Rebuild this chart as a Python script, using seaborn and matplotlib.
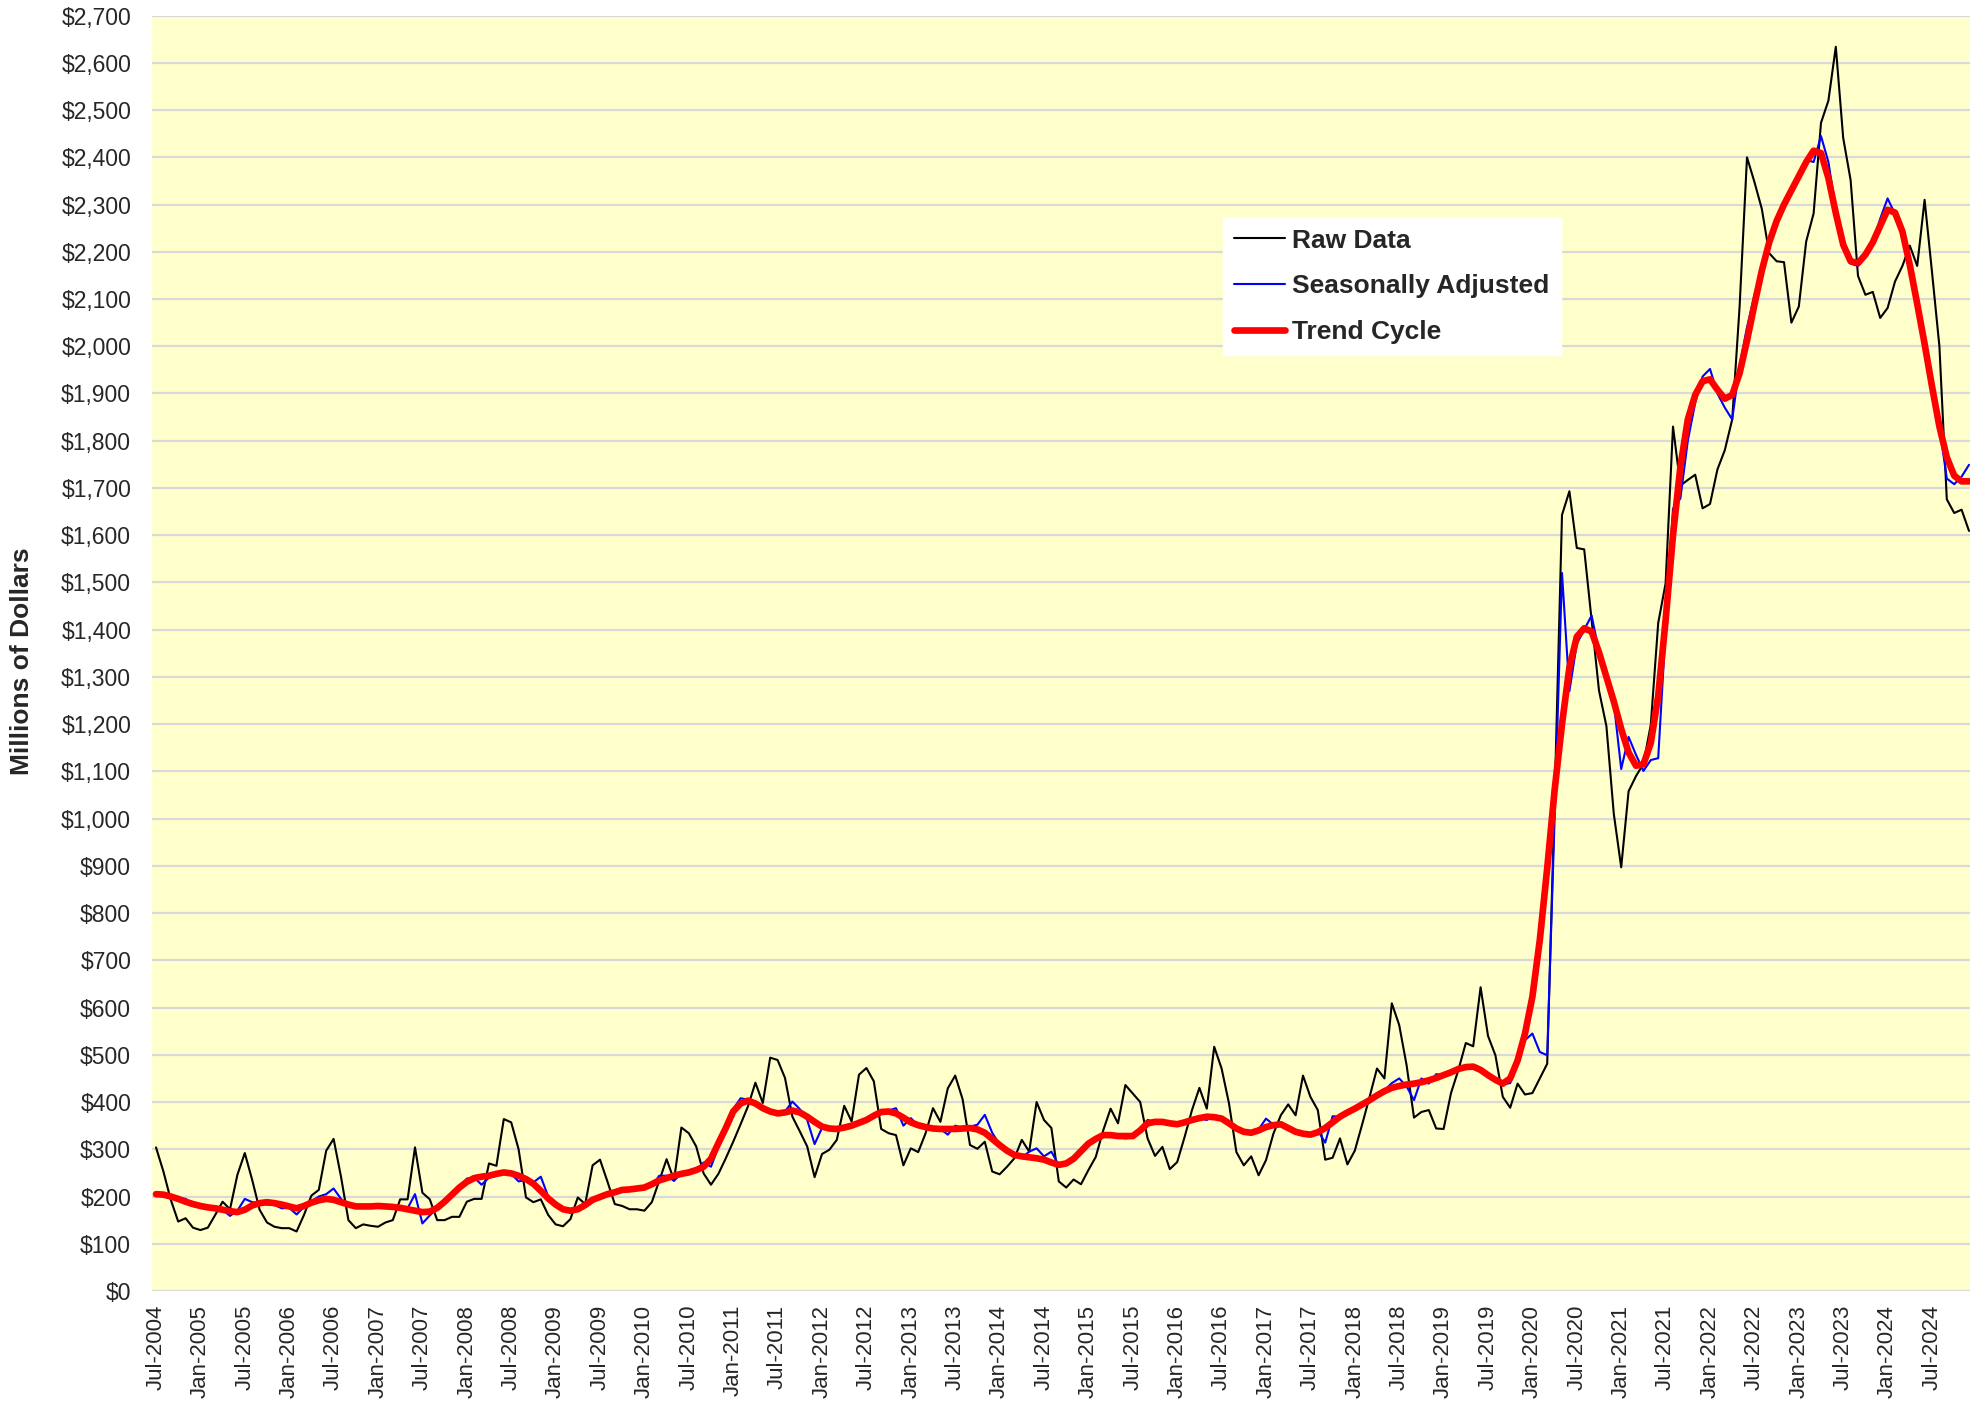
import numpy as np
import pandas as pd
import matplotlib
matplotlib.use('Agg')
import matplotlib.pyplot as plt
import seaborn as sns
from matplotlib.ticker import FuncFormatter, MultipleLocator

# monthly series, Jul-2004 .. Dec-2024 (millions of dollars)
months = pd.date_range('2004-07-01', periods=246, freq='MS')

raw_data = [
    304, 253, 193, 147, 154, 134, 129, 134, 161, 189, 173, 246,
    292, 235, 172, 145, 136, 133, 133, 126, 161, 202, 214, 297,
    322, 242, 150, 133, 141, 138, 136, 145, 150, 194, 194, 304,
    208, 194, 150, 150, 157, 157, 189, 195, 195, 270, 265, 364,
    357, 300, 198, 188, 194, 161, 141, 137, 152, 198, 184, 266,
    278, 232, 184, 180, 173, 173, 170, 188, 233, 279, 235, 346,
    334, 306, 249, 225, 248, 281, 316, 353, 391, 441, 398, 494,
    489, 451, 369, 338, 306, 241, 290, 299, 320, 392, 359, 458,
    472, 444, 343, 334, 330, 266, 302, 294, 334, 387, 358, 429,
    456, 406, 309, 301, 316, 253, 247, 263, 281, 320, 295, 400,
    362, 345, 232, 219, 236, 226, 256, 284, 340, 386, 355, 436,
    418, 400, 323, 286, 305, 258, 273, 326, 383, 430, 386, 517,
    471, 397, 294, 266, 285, 245, 277, 333, 372, 395, 372, 456,
    411, 383, 278, 282, 323, 268, 297, 353, 411, 471, 450, 609,
    563, 478, 367, 379, 383, 344, 343, 419, 468, 525, 518, 643,
    540, 499, 411, 388, 439, 416, 419, 450, 481, 1040, 1643, 1693,
    1573, 1570, 1420, 1271, 1196, 1010, 897, 1058, 1090, 1116, 1199, 1414,
    1498, 1830, 1705, 1717, 1728, 1657, 1666, 1739, 1780, 1845, 2084, 2400,
    2348, 2291, 2197, 2180, 2178, 2050, 2084, 2222, 2281, 2473, 2520, 2634,
    2441, 2352, 2149, 2109, 2115, 2060, 2081, 2137, 2170, 2213, 2170, 2310,
    2157, 2000, 1676, 1647, 1654, 1609,
]

seas_adj = [
    205, 207, 200, 196, 195, 184, 180, 176, 180, 172, 159, 170,
    195, 188, 186, 183, 182, 175, 176, 162, 178, 190, 200, 205,
    217, 195, 180, 177, 178, 180, 181, 179, 178, 177, 175, 205,
    143, 160, 175, 190, 205, 218, 238, 240, 225, 240, 244, 250,
    248, 232, 235, 230, 242, 200, 182, 172, 172, 175, 180, 190,
    199, 205, 210, 213, 215, 217, 219, 222, 244, 244, 233, 250,
    252, 256, 272, 263, 305, 345, 385, 408, 405, 395, 388, 380,
    374, 380, 401, 385, 362, 311, 345, 345, 344, 348, 352, 358,
    364, 372, 380, 382, 387, 350, 366, 350, 347, 344, 343, 331,
    350, 345, 348, 352, 373, 335, 310, 298, 288, 282, 295, 302,
    285, 295, 266, 268, 280, 296, 312, 322, 330, 332, 326, 323,
    325, 345, 362, 358, 356, 352, 353, 357, 362, 366, 362, 372,
    368, 352, 344, 337, 336, 342, 365, 352, 350, 345, 337, 334,
    330, 340, 314, 370, 369, 378, 386, 395, 404, 414, 425, 440,
    450, 433, 404, 450, 439, 459, 457, 463, 470, 474, 476, 470,
    455, 445, 438, 440, 488, 531, 545, 506, 499, 1000, 1520, 1270,
    1370, 1400, 1430, 1354, 1301, 1245, 1105, 1173, 1135, 1101, 1124, 1128,
    1400, 1656, 1678, 1800, 1880, 1936, 1952, 1900, 1870, 1845, 1960, 2040,
    2108, 2165, 2215, 2265, 2300, 2330, 2360, 2395, 2390, 2445, 2390, 2290,
    2210, 2175, 2170, 2190, 2220, 2270, 2313, 2280, 2240, 2170, 2080, 2005,
    1930, 1830, 1720, 1708, 1724, 1749,
]

trend_cycle = [
    205, 204, 200, 195, 189, 184, 180, 177, 175, 172, 169, 167,
    172, 181, 186, 188, 186, 183, 179, 175, 180, 187, 192, 195,
    193, 188, 183, 179, 179, 179, 180, 179, 178, 176, 173, 170,
    167, 168, 176, 189, 204, 219, 231, 239, 242, 244, 248, 251,
    249, 244, 237, 227, 212, 196, 183, 173, 170, 173, 182, 193,
    199, 205, 209, 214, 215, 217, 219, 226, 234, 239, 244, 248,
    251, 256, 263, 280, 313, 345, 380, 397, 403, 397, 387, 380,
    376, 378, 382, 378, 369, 358, 348, 344, 343, 346, 350, 356,
    362, 371, 379, 380, 376, 367, 357, 351, 347, 344, 343, 343,
    343, 344, 345, 342, 335, 322, 309, 297, 288, 285, 283, 281,
    278, 272, 267, 270, 280, 296, 312, 322, 330, 330, 328, 328,
    328, 340, 355, 358, 358, 355, 353, 357, 362, 366, 369, 368,
    365, 355, 344, 337, 335, 340, 347, 351, 353, 345, 337, 333,
    331, 336, 345, 357, 369, 378, 386, 395, 404, 414, 423, 430,
    434, 437, 439, 442, 446, 451, 457, 463, 470, 474, 475, 468,
    457, 447, 439, 450, 488, 545, 623, 743, 895, 1060, 1200, 1320,
    1385, 1403, 1396, 1352, 1300, 1248, 1190, 1140, 1112, 1115, 1160, 1260,
    1420, 1600, 1745, 1845, 1897, 1926, 1930, 1908, 1889, 1897, 1943, 2012,
    2088, 2160, 2220, 2265, 2300, 2330, 2360, 2390, 2414, 2409, 2356, 2282,
    2215, 2180, 2176, 2194, 2220, 2255, 2289, 2283, 2243, 2172, 2090, 2005,
    1915, 1830, 1765, 1726, 1714, 1714,
]

assert len(raw_data) == len(months)
assert len(seas_adj) == len(months)
assert len(trend_cycle) == len(months)

df = pd.DataFrame({
    'pos': np.arange(len(months)),
    'Raw Data': raw_data,
    'Seasonally Adjusted': seas_adj,
    'Trend Cycle': trend_cycle,
})

sns.set_style('white')
plt.rcParams['font.family'] = ['Liberation Sans', 'DejaVu Sans']

fig = plt.figure(figsize=(19.86, 14.06), dpi=100)
ax = fig.add_axes([0.0765, 0.0818, 0.9155, 0.9071])
ax.set_facecolor('#FFFFCC')

sns.lineplot(data=df, x='pos', y='Raw Data', color='black', lw=1.5, ax=ax, label='Raw Data')
sns.lineplot(data=df, x='pos', y='Seasonally Adjusted', color='#0000FF', lw=1.5, ax=ax,
             label='Seasonally Adjusted')
sns.lineplot(data=df, x='pos', y='Trend Cycle', color='#FF0000', lw=4.8, ax=ax, label='Trend Cycle')

ax.set_ylim(0, 2700)
ax.set_xlim(-0.55, len(months) - 0.85)
ax.yaxis.set_major_locator(MultipleLocator(100))
ax.yaxis.set_major_formatter(FuncFormatter(lambda v, p: '${:,.0f}'.format(v)))
ax.yaxis.grid(True, color='#D9D9D9', lw=1.6)
ax.xaxis.grid(False)
ax.set_axisbelow(True)

tick_pos = list(range(0, len(months), 6))
ax.set_xticks(tick_pos)
ax.set_xticklabels([months[i].strftime('%b-%Y') for i in tick_pos], rotation=90)
ax.tick_params(axis='x', length=0, pad=10, labelsize=16)
ax.tick_params(axis='y', length=0, pad=15, labelsize=16.5)

for s in ax.spines.values():
    s.set_visible(False)

ax.set_xlabel('')
ax.set_ylabel('Millions of Dollars', fontsize=19, fontweight='bold')
ax.yaxis.set_label_coords(-0.065, 0.494)

leg = ax.legend(loc='upper left', bbox_to_anchor=(0.582, 0.852), frameon=True,
                facecolor='white', edgecolor='white', fancybox=False, framealpha=1,
                prop={'weight': 'bold', 'size': 19}, handlelength=1.9,
                handletextpad=0.3, labelspacing=0.82, borderpad=0.42)

plt.savefig('out.png', dpi=100)
plt.close()
